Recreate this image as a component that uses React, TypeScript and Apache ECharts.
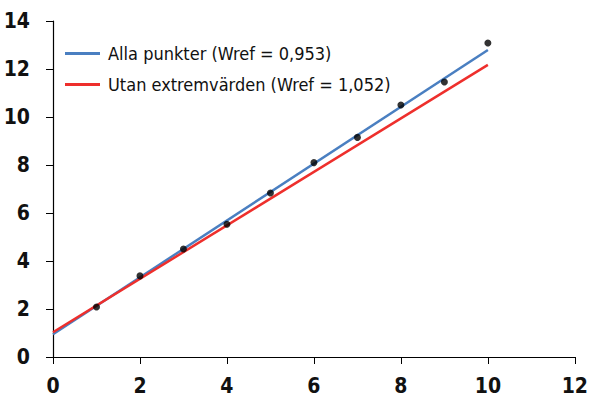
import React, { useEffect, useRef } from "react";
import * as echarts from "echarts";

// Observed measurements (x = point index, y = measured value)
const pointX = [1, 2, 3, 4, 5, 6, 7, 8, 9, 10];
const pointY = [2.08, 3.38, 4.5, 5.53, 6.83, 8.1, 9.15, 10.5, 11.46, 13.08];

// Fitted lines, evaluated at the ends of the range
const fitX = [0, 10];
const fitAllY = [0.95, 12.79];
const fitTrimmedY = [1.03, 12.17];

const legendNames = [
  "Alla punkter (Wref = 0,953)",
  "Utan extremvärden (Wref = 1,052)",
];

const FONT = "'DejaVu Sans Condensed', 'Liberation Sans Narrow', sans-serif";

export default function App() {
  const ref = useRef<HTMLDivElement>(null);

  useEffect(() => {
    if (!ref.current) return;
    const chart = echarts.init(ref.current, undefined, { renderer: "svg" });
    const axisCommon = {
      type: "value" as const,
      interval: 2,
      axisLine: { show: true, lineStyle: { color: "#000", width: 1.2 } },
      axisTick: { show: true, length: 7, lineStyle: { color: "#000", width: 1 } },
      splitLine: { show: false },
      axisLabel: {
        color: "#111",
        fontFamily: FONT,
        fontSize: 21,
        fontWeight: "bold" as const,
      },
    };
    chart.setOption({
      animation: false,
      grid: { left: 53, right: 14, top: 21, bottom: 41 },
      legend: {
        orient: "vertical",
        left: 60,
        top: 38,
        icon: "rect",
        itemWidth: 35,
        itemHeight: 3,
        itemGap: 10,
        data: legendNames,
        textStyle: {
          fontFamily: FONT,
          fontSize: 18,
          color: "#111",
          lineHeight: 21,
          padding: [0, 0, 0, 3],
        },
      },
      xAxis: {
        ...axisCommon,
        min: 0,
        max: 12,
        axisLabel: { ...axisCommon.axisLabel, margin: 18 },
      },
      yAxis: {
        ...axisCommon,
        min: 0,
        max: 14,
        axisLabel: { ...axisCommon.axisLabel, margin: 23 },
      },
      series: [
        {
          name: legendNames[0],
          type: "line",
          data: fitX.map((x, i) => [x, fitAllY[i]]),
          showSymbol: false,
          lineStyle: { color: "#4a7fc1", width: 2.5 },
          itemStyle: { color: "#4a7fc1" },
        },
        {
          name: legendNames[1],
          type: "line",
          data: fitX.map((x, i) => [x, fitTrimmedY[i]]),
          showSymbol: false,
          lineStyle: { color: "#ee2f2c", width: 2.5 },
          itemStyle: { color: "#ee2f2c" },
        },
        {
          type: "scatter",
          data: pointX.map((x, i) => [x, pointY[i]]),
          symbolSize: 7,
          itemStyle: { color: "#000" },
          z: 5,
        },
      ],
    });
    return () => chart.dispose();
  }, []);

  return <div ref={ref} style={{ width: 591, height: 398, position: "absolute", left: 0, top: 0 }} />;
}
